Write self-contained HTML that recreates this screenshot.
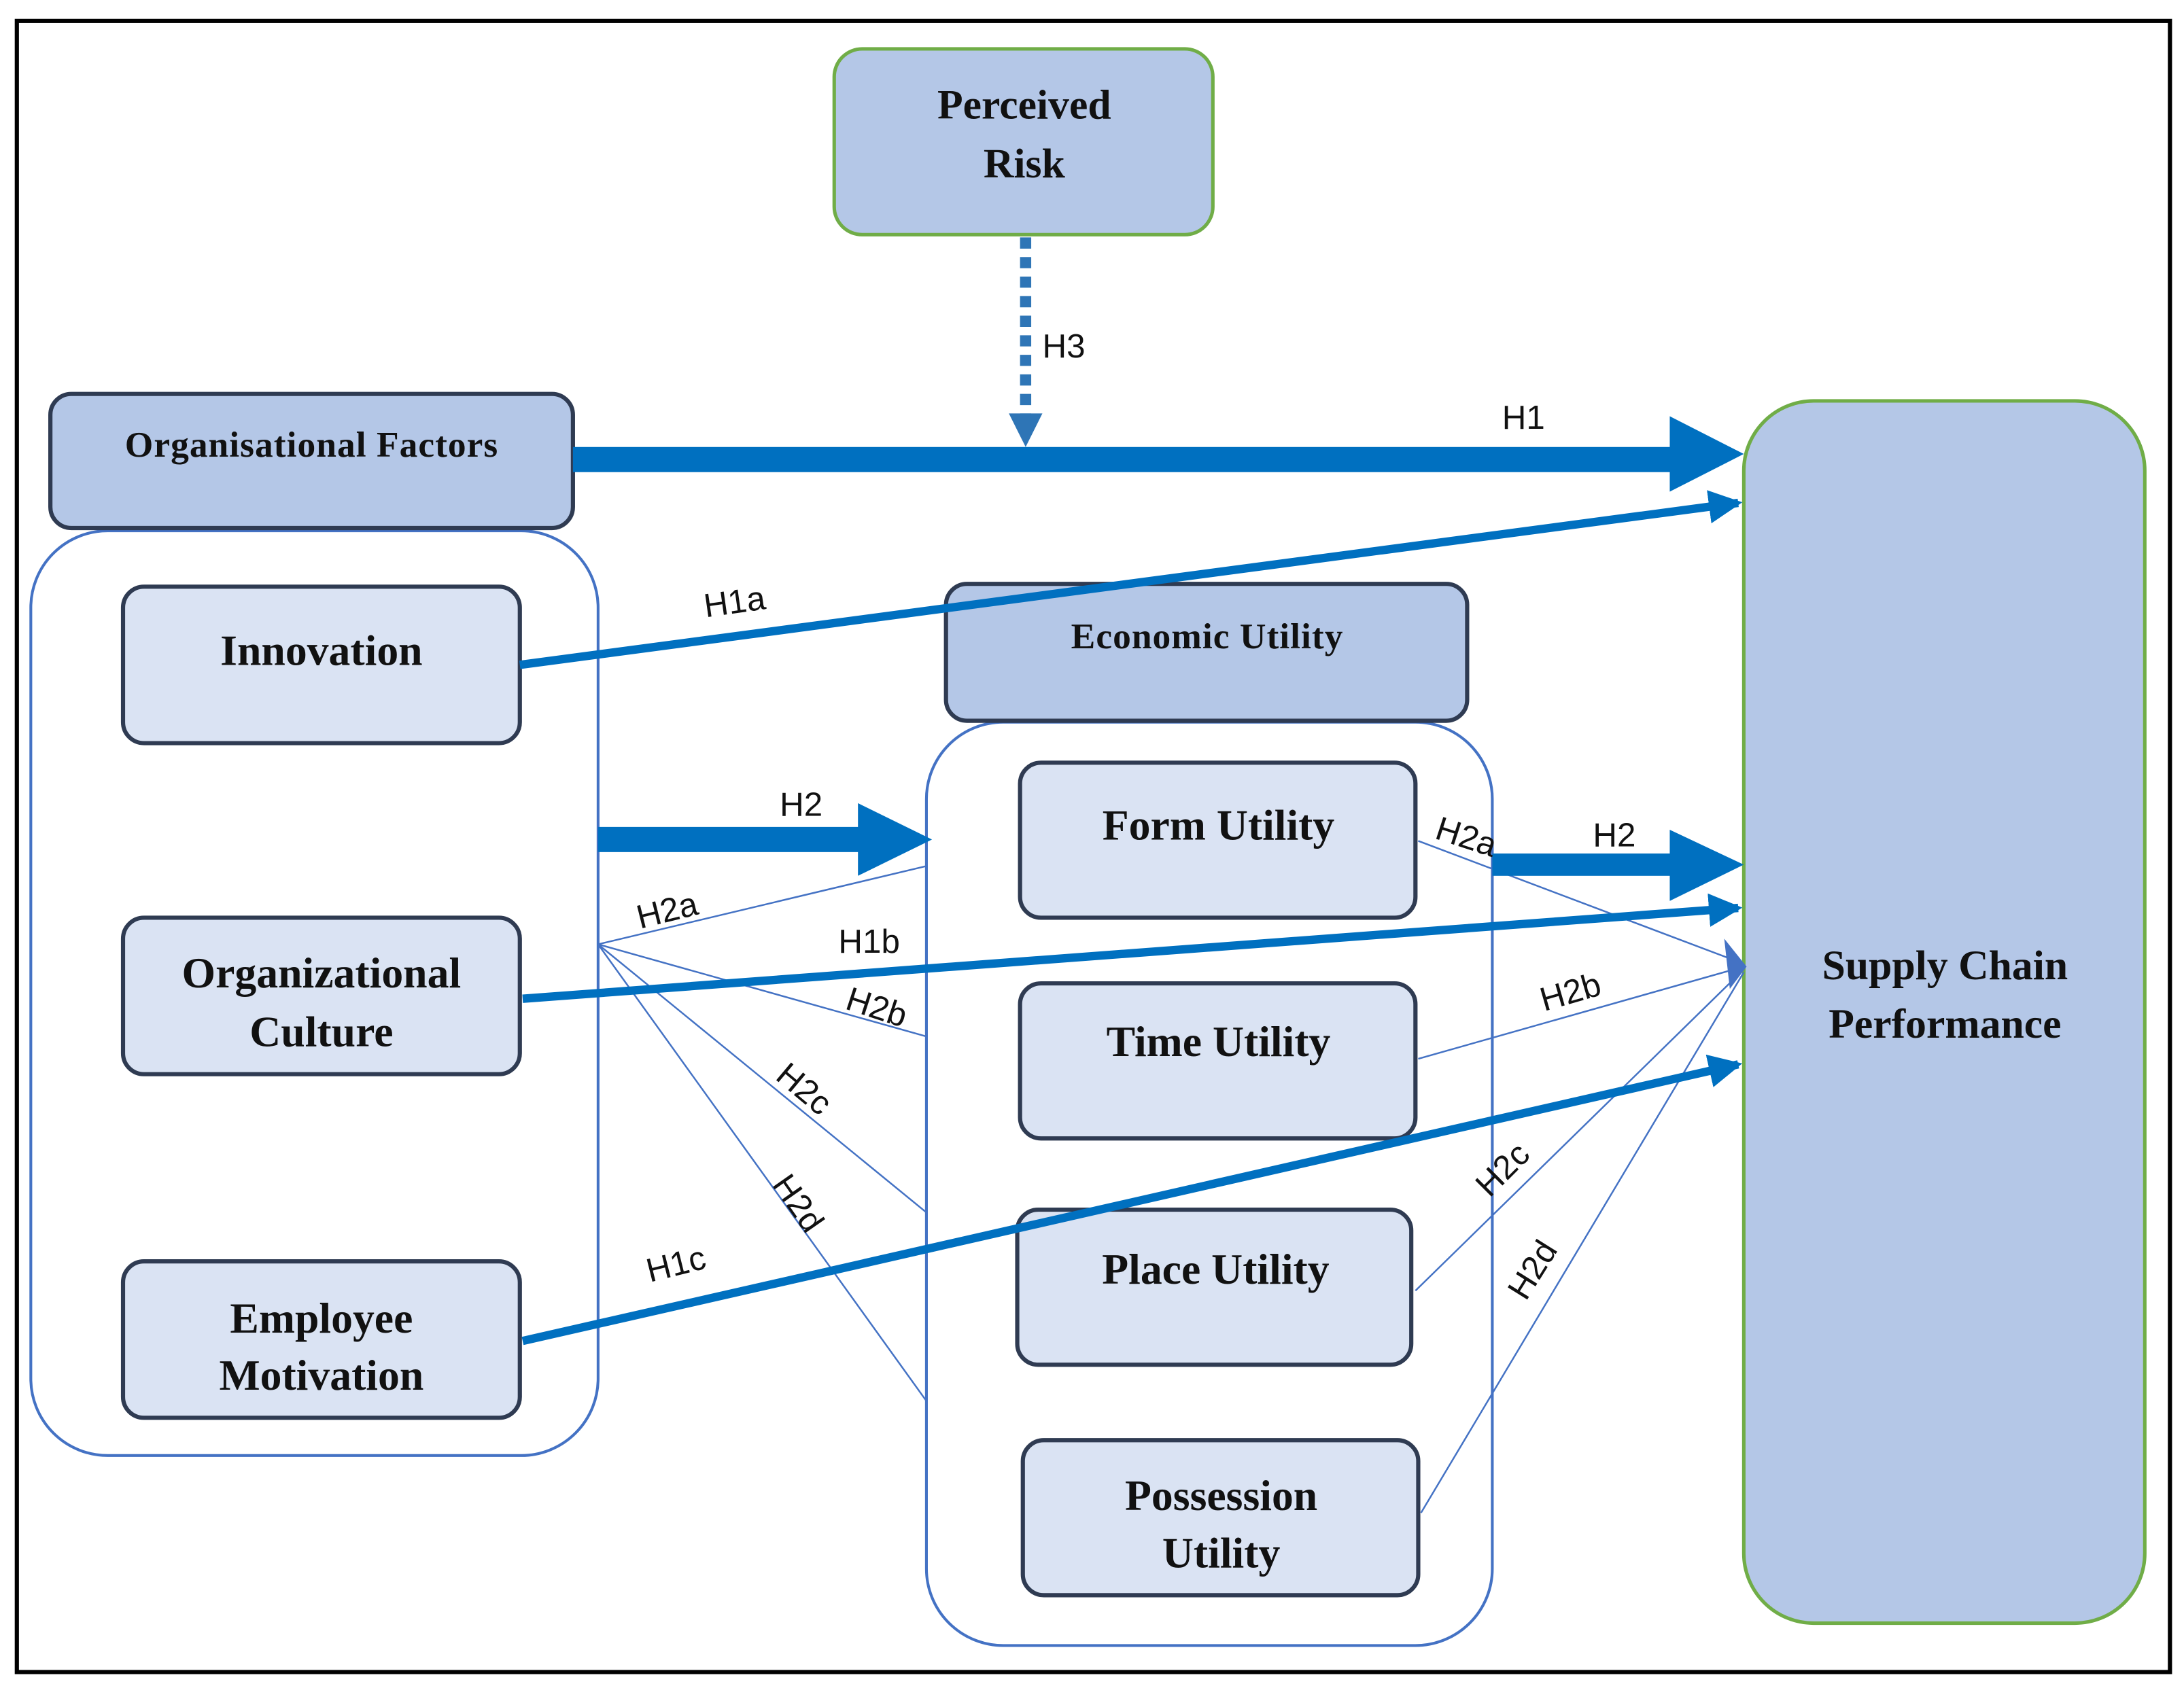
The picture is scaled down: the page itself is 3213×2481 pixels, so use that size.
<!DOCTYPE html>
<html><head><meta charset="utf-8"><style>html,body{margin:0;padding:0;background:#fff}svg{display:block}</style></head>
<body>
<svg width="3213" height="2481" viewBox="0 0 1563 1207" xmlns="http://www.w3.org/2000/svg">
<defs>
<marker id="ah" markerWidth="4" markerHeight="4" refX="3.5" refY="2" orient="auto" markerUnits="strokeWidth"><path d="M0,0 L4,2 L0,4 z" fill="#0070c0"/></marker>
</defs>
<rect x="0" y="0" width="1563" height="1207" fill="#fff"/>
<rect x="12" y="15" width="1541" height="1182" fill="none" stroke="#000" stroke-width="3"/>
<g font-family="Liberation Serif, serif" font-weight="bold" fill="#111" text-anchor="middle">
<rect x="22" y="380" width="406" height="662" rx="55" fill="#fff" stroke="#4472c4" stroke-width="2"/>
<rect x="663" y="517" width="405" height="661" rx="55" fill="#fff" stroke="#4472c4" stroke-width="2"/>
<rect x="597" y="35" width="271" height="133" rx="20" fill="#b4c7e7" stroke="#70ad47" stroke-width="2.5"/>
<text x="733" y="85" font-size="30">Perceived</text><text x="733" y="127" font-size="30">Risk</text>
<rect x="1248" y="287" width="287" height="875" rx="50" fill="#b4c7e7" stroke="#70ad47" stroke-width="2.5"/>
<text x="1392" y="701" font-size="30">Supply Chain</text><text x="1392" y="743" font-size="30">Performance</text>
<rect x="36" y="282" width="374" height="96" rx="15" fill="#b4c7e7" stroke="#2f3b52" stroke-width="3"/>
<text x="223" y="327" font-size="26" letter-spacing="0.5">Organisational Factors</text>
<rect x="677" y="418" width="373" height="98" rx="15" fill="#b4c7e7" stroke="#2f3b52" stroke-width="3"/>
<text x="864" y="464" font-size="26" letter-spacing="0.5">Economic Utility</text>
<g fill="#dae3f3" stroke="#2f3b52" stroke-width="3">
<rect x="88" y="420" width="284" height="112" rx="15"/>
<rect x="88" y="657" width="284" height="112" rx="15"/>
<rect x="88" y="903" width="284" height="112" rx="15"/>
<rect x="730" y="546" width="283" height="111" rx="15"/>
<rect x="730" y="704" width="283" height="111" rx="15"/>
<rect x="728" y="866" width="282" height="111" rx="15"/>
<rect x="732" y="1031" width="283" height="111" rx="15"/>
</g>
<text x="230" y="476" font-size="31">Innovation</text>
<text x="230" y="707" font-size="31">Organizational</text><text x="230" y="749" font-size="31">Culture</text>
<text x="230" y="954" font-size="31">Employee</text><text x="230" y="995" font-size="31">Motivation</text>
<text x="872" y="601" font-size="31">Form Utility</text>
<text x="872" y="756" font-size="31">Time Utility</text>
<text x="870" y="919" font-size="31">Place Utility</text>
<text x="874" y="1081" font-size="31">Possession</text><text x="874" y="1122" font-size="31">Utility</text>
</g>
<g stroke="#4472c4" stroke-width="1.2" fill="none">
<line x1="428" y1="676" x2="663" y2="620"/>
<line x1="428" y1="676" x2="663" y2="742"/>
<line x1="428" y1="676" x2="663" y2="868"/>
<line x1="428" y1="676" x2="663" y2="1003"/>
<line x1="1015" y1="602" x2="1248" y2="690"/>
<line x1="1015" y1="758" x2="1248" y2="692"/>
<line x1="1013" y1="924" x2="1248" y2="694"/>
<line x1="1017" y1="1083" x2="1248" y2="696"/>
</g>
<path d="M1234,672 L1250,692 L1238,708 z" fill="#4472c4"/>
<line x1="734" y1="170" x2="734" y2="298" stroke="#2e75b6" stroke-width="8" stroke-dasharray="8,6"/>
<path d="M722,296 L746,296 L734,320 z" fill="#2e75b6"/>
<g fill="#0070c0">
<rect x="410" y="320" width="788" height="18"/><path d="M1195,298 L1248,325 L1195,352 z"/>
<rect x="428" y="592" width="190" height="18"/><path d="M614,575 L667,601 L614,627 z"/>
<rect x="1068" y="611" width="130" height="16"/><path d="M1195,594 L1248,619 L1195,645 z"/>
</g>
<g stroke="#0070c0" stroke-width="6" fill="none">
<line x1="372" y1="476" x2="1244" y2="360" marker-end="url(#ah)"/>
<line x1="374" y1="715" x2="1244" y2="650" marker-end="url(#ah)"/>
<line x1="374" y1="960" x2="1244" y2="762" marker-end="url(#ah)"/>
</g>
<g font-family="Liberation Sans, sans-serif" font-size="24" fill="#111">
<text x="746" y="256">H3</text>
<text x="1075" y="307">H1</text>
<text x="505" y="442" transform="rotate(-8 505 442)">H1a</text>
<text x="558" y="584">H2</text>
<text x="1140" y="606">H2</text>
<text x="458" y="665" transform="rotate(-14 458 665)">H2a</text>
<text x="600" y="682">H1b</text>
<text x="604" y="722" transform="rotate(18 604 722)">H2b</text>
<text x="554" y="772" transform="rotate(40 554 772)">H2c</text>
<text x="552" y="848" transform="rotate(55 552 848)">H2d</text>
<text x="465" y="918" transform="rotate(-14 465 918)">H1c</text>
<text x="1026" y="600" transform="rotate(18 1026 600)">H2a</text>
<text x="1105" y="724" transform="rotate(-16 1105 724)">H2b</text>
<text x="1066" y="858" transform="rotate(-45 1066 858)">H2c</text>
<text x="1092" y="932" transform="rotate(-58 1092 932)">H2d</text>
</g>
</svg>
</body></html>
